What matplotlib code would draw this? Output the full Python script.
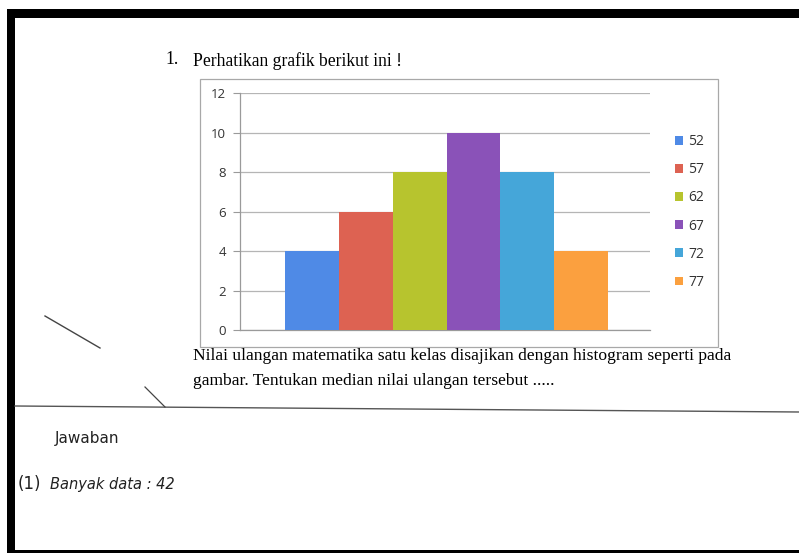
import matplotlib
matplotlib.use("Agg")
import matplotlib.pyplot as plt
from matplotlib.patches import Rectangle, Patch
from matplotlib.lines import Line2D

# ---- data ----
classes = ["52", "57", "62", "67", "72", "77"]
frequencies = [4, 6, 8, 10, 8, 4]
colors = ["#4f8ae6", "#dd6252", "#b7c42e", "#8a52b8", "#45a6d9", "#fba03f"]
y_ticks = [0, 2, 4, 6, 8, 10, 12]

title_num = "1."
title_text = "Perhatikan grafik berikut ini !"
question_lines = [
    "Nilai ulangan matematika satu kelas disajikan dengan histogram seperti pada",
    "gambar. Tentukan median nilai ulangan tersebut .....",
]
answer_head = "Jawaban"
answer_line = "Banyak data : 42"

W, H = 799, 553
fig = plt.figure(figsize=(W / 100, H / 100), dpi=100)
fig.patch.set_facecolor("white")


def fx(px):
    return px / W


def fy(py):
    return 1 - py / H


# page border (black bands)
fig.add_artist(Rectangle((fx(7), fy(18)), fx(W - 7), 9 / H, transform=fig.transFigure,
                         facecolor="black", edgecolor="none"))
fig.add_artist(Rectangle((fx(7), 0), fx(8), fy(9), transform=fig.transFigure,
                         facecolor="black", edgecolor="none"))
fig.add_artist(Rectangle((fx(7), 0), fx(W - 7), 3 / H, transform=fig.transFigure,
                         facecolor="black", edgecolor="none"))

# chart frame box
fig.add_artist(Rectangle((fx(200), fy(347)), fx(718 - 200), (347 - 79) / H,
                         transform=fig.transFigure, facecolor="none",
                         edgecolor="#a8a8a8", linewidth=0.9))

# axes
ax = fig.add_axes([fx(240), fy(330), fx(650 - 240), (330 - 93) / H])
ax.set_facecolor("none")
ax.set_xlim(-0.5, 0.5)
ax.set_ylim(0, 12)
bw = 0.1313
n = len(classes)
for i, (c, v, col) in enumerate(zip(classes, frequencies, colors)):
    ax.bar((i - (n - 1) / 2) * bw + 0.004, v, width=bw, color=col, edgecolor="none",
           zorder=3, label=c)

ax.set_yticks(y_ticks)
ax.set_yticklabels([str(t) for t in y_ticks], fontsize=9.5, color="#333333",
                   family="Open Sans")
ax.set_xticks([])
ax.yaxis.grid(True, color="#b5b5b5", linewidth=0.9, zorder=0)
for s in ["top", "right"]:
    ax.spines[s].set_visible(False)
ax.spines["left"].set_color("#9a9a9a")
ax.spines["bottom"].set_color("#9a9a9a")
ax.spines["left"].set_linewidth(0.9)
ax.spines["bottom"].set_linewidth(0.9)
ax.tick_params(axis="y", length=5, width=0.8, color="#9a9a9a", pad=5)

handles = [Patch(facecolor=col, edgecolor="none") for col in colors]
fig.legend(handles, classes, loc="upper left", bbox_to_anchor=(fx(675), fy(134)),
           frameon=False, handlelength=0.6, handleheight=0.6, handletextpad=0.35,
           labelspacing=0.95, prop={"family": "Open Sans", "size": 10},
           labelcolor="#333333", borderaxespad=0, borderpad=0)

# texts
serif = "Liberation Serif"
fig.text(fx(165), fy(60), title_num, family=serif, fontsize=12.7, va="center", ha="left")
fig.text(fx(193), fy(61), title_text, family=serif, fontsize=12.7, va="center", ha="left")
fig.text(fx(193), fy(356), question_lines[0], family=serif, fontsize=12.6, va="center",
         ha="left")
fig.text(fx(193), fy(381), question_lines[1], family=serif, fontsize=12.6, va="center",
         ha="left")

# separator and pen strokes
fig.add_artist(Line2D([fx(15), fx(799)], [fy(406), fy(412)], transform=fig.transFigure,
                      color="#555555", linewidth=1.0))
fig.add_artist(Line2D([fx(45), fx(100)], [fy(316), fy(348)], transform=fig.transFigure,
                      color="#444444", linewidth=1.0))
fig.add_artist(Line2D([fx(145), fx(165)], [fy(387), fy(407)], transform=fig.transFigure,
                      color="#444444", linewidth=0.9))

# handwriting
hand = "DejaVu Sans"
fig.text(fx(55), fy(438), answer_head, family=hand, fontsize=11, va="center", ha="left",
         color="#222222")
fig.text(fx(18), fy(484), "(1)", family=hand, fontsize=12, va="center", ha="left",
         color="#222222")
fig.text(fx(50), fy(484), answer_line, family=hand, fontsize=10.5, va="center", ha="left",
         color="#222222", style="italic")

fig.savefig("out.png", dpi=100, facecolor="white")
